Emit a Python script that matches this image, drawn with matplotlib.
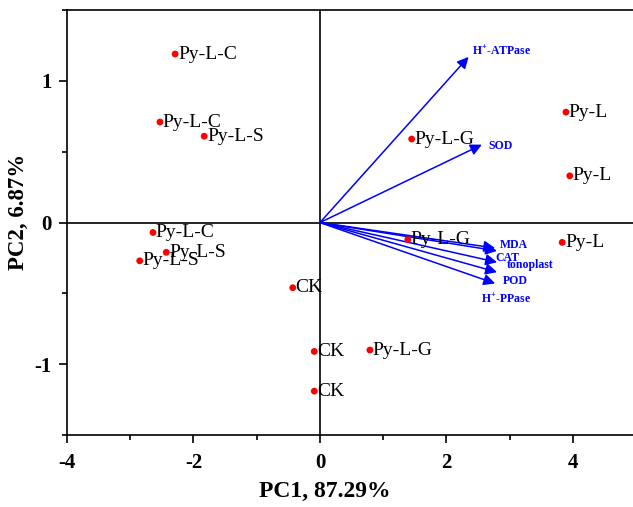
import matplotlib
matplotlib.use("Agg")
import matplotlib.pyplot as plt
from matplotlib.ticker import MultipleLocator

plt.rcParams['font.family'] = 'Liberation Serif'
plt.rcParams['mathtext.fontset'] = 'custom'
plt.rcParams['mathtext.rm'] = 'Liberation Serif'
plt.rcParams['mathtext.bf'] = 'Liberation Serif:bold'

# sample scores
sample_names = ["Py-L-C", "Py-L-C", "Py-L-S", "Py-L-C", "Py-L-S", "Py-L-S",
                "CK", "CK", "CK", "Py-L-G", "Py-L-G", "Py-L-G",
                "Py-L", "Py-L", "Py-L"]
pc1 = [-2.29, -2.53, -1.83, -2.64, -2.43, -2.85,
       -0.43, -0.09, -0.09, 0.79, 1.45, 1.39,
       3.89, 3.95, 3.83]
pc2 = [1.19, 0.71, 0.61, -0.07, -0.21, -0.27,
       -0.46, -0.91, -1.19, -0.90, 0.59, -0.12,
       0.78, 0.33, -0.14]

# loadings (arrow tips) and label positions
var_names = [r"H$^{\mathbf{+}}$-ATPase", "SOD", "MDA", "CAT", "tonoplast", "POD",
             r"H$^{\mathbf{+}}$-PPase"]
load_x = [2.35, 2.56, 2.77, 2.80, 2.80, 2.80, 2.77]
load_y = [1.17, 0.55, -0.18, -0.20, -0.28, -0.35, -0.43]
lab_x = [2.40, 2.67, 2.85, 2.78, 2.96, 2.89, 2.55]
lab_y = [1.21, 0.54, -0.16, -0.25, -0.30, -0.41, -0.54]

fig = plt.figure(figsize=(6.33, 5.07), dpi=100)
ax = fig.add_axes([0.1058, 0.142, 0.8942, 0.838])

ax.axhline(0, color='black', lw=1.2, zorder=1)
ax.axvline(0, color='black', lw=1.2, zorder=1)

for i in range(len(var_names)):
    ax.annotate("", xy=(load_x[i], load_y[i]), xytext=(0, 0),
                arrowprops=dict(arrowstyle='-|>', color='blue', lw=1.1,
                                mutation_scale=17, shrinkA=0, shrinkB=0),
                zorder=2)
    ax.text(lab_x[i], lab_y[i], var_names[i], color='blue', fontsize=8.5,
            fontweight='bold', ha='left', va='center', zorder=4)

ax.scatter(pc1, pc2, s=24, color='red', zorder=3, edgecolors='none')
for name, x, y in zip(sample_names, pc1, pc2):
    ax.annotate(name, (x, y), xytext=(2, 0), textcoords='offset points',
                fontsize=14, ha='left', va='center', zorder=4)

ax.set_xlim(-4, 4.95)
ax.set_ylim(-1.5, 1.5)
ax.xaxis.set_major_locator(MultipleLocator(2))
ax.xaxis.set_minor_locator(MultipleLocator(1))
ax.yaxis.set_major_locator(MultipleLocator(1))
ax.yaxis.set_minor_locator(MultipleLocator(0.5))
ax.tick_params(which='both', direction='out', width=1.2, labelsize=15)
ax.tick_params(which='major', length=6)
ax.tick_params(which='minor', length=3.5)
ax.tick_params(axis='x', which='major', pad=7)
ax.tick_params(axis='y', which='major', pad=5)
ax.xaxis.set_major_formatter(plt.FuncFormatter(lambda v, p: "%d" % v))
ax.yaxis.set_major_formatter(plt.FuncFormatter(lambda v, p: "%d" % v))
for lab in ax.get_xticklabels() + ax.get_yticklabels():
    lab.set_fontweight('bold')
ax.spines['right'].set_visible(False)
for s in ['left', 'bottom', 'top']:
    ax.spines[s].set_linewidth(1.2)

ax.set_xlabel("PC1, 87.29%", fontsize=17, fontweight='bold')
ax.set_ylabel("PC2, 6.87%", fontsize=16.5, fontweight='bold')
ax.xaxis.set_label_coords(0.455, -0.108)
ax.yaxis.set_label_coords(-0.067, 0.525)

fig.savefig("out.png", dpi=100)
